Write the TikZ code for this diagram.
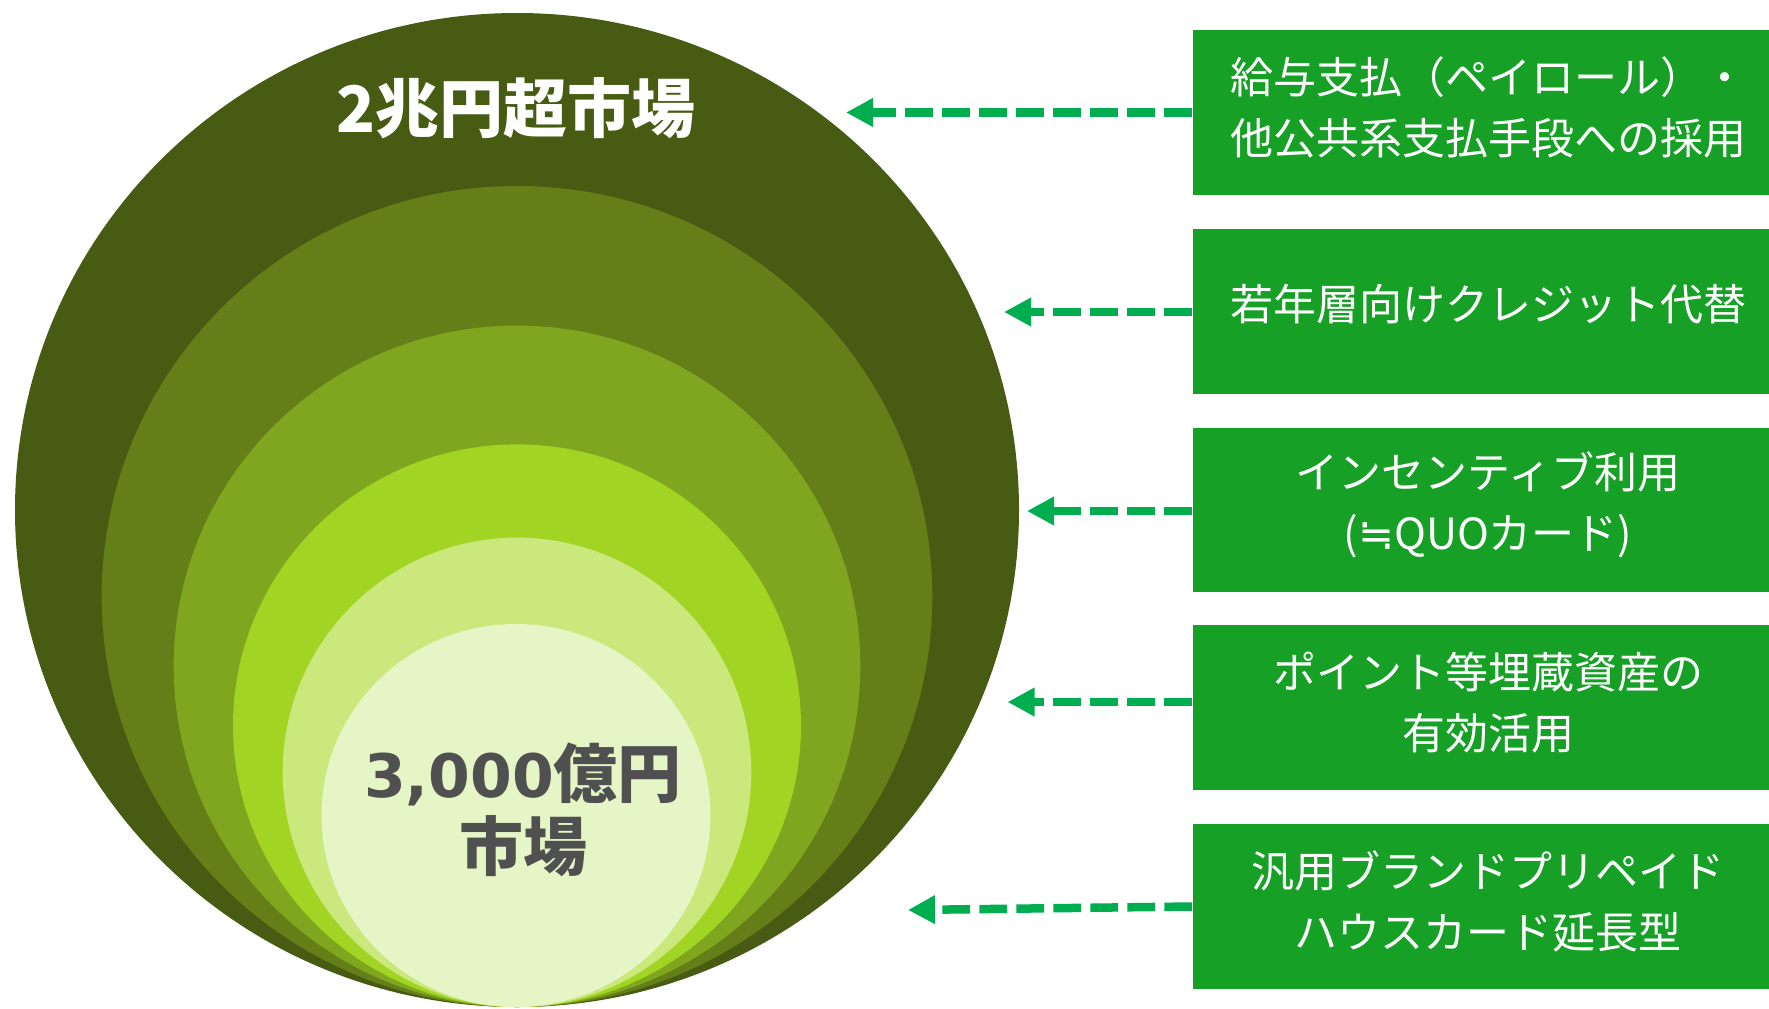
\documentclass[tikz,border=0pt]{standalone}
\usepackage{fontspec}
\setmainfont{Noto Sans CJK JP}
\newfontfamily\symfont{DejaVu Sans}
\usetikzlibrary{arrows.meta}
\definecolor{ring1}{RGB}{71,92,18}
\definecolor{ring2}{RGB}{100,127,24}
\definecolor{ring3}{RGB}{128,166,32}
\definecolor{ring4}{RGB}{162,212,36}
\definecolor{ring5}{RGB}{202,232,124}
\definecolor{ring6}{RGB}{230,245,198}
\definecolor{boxgreen}{RGB}{22,160,38}
\definecolor{arrowgreen}{RGB}{0,174,80}
\definecolor{darktext}{RGB}{80,80,80}
\begin{document}
\begin{tikzpicture}[x=0.5pt,y=-0.5pt,
  greenbox/.style={rectangle, fill=boxgreen, draw=none, inner sep=0pt,
    minimum width=288.25pt, minimum height=82.4pt},
  boxlabel/.style={text=white, align=center, inner sep=0pt,
    font=\fontsize{21.5pt}{30.5pt}\selectfont},
  ringlabel/.style={align=center, inner sep=0pt,
    font=\fontsize{32pt}{36.5pt}\selectfont\bfseries},
  linkarrow/.style={arrowgreen, line width=4.25pt,
    dash pattern=on 13.85pt off 4.65pt,
    -{Triangle[length=13.5pt,width=13.5pt]}}
]
\useasboundingbox (0,0) rectangle (1769,1008);
% nested circles
\fill[ring1] (517,510) ellipse [x radius=502, y radius=497];
\fill[ring2] (517,596.5) ellipse [x radius=415.3, y radius=410.5];
\fill[ring3] (517,666.3) ellipse [x radius=343.3, y radius=340.7];
\fill[ring4] (517,725.7) ellipse [x radius=284, y radius=281.3];
\fill[ring5] (517,772.3) ellipse [x radius=234.3, y radius=234.7];
\fill[ring6] (516,815.5) ellipse [x radius=194.5, y radius=191.5];
% circle labels
\node[ringlabel, text=white] (big) at (516,108) {2兆円超市場};
\node[ringlabel, text=darktext] (small) at (523,809.5)
  {{\symfont\fontsize{30pt}{36.5pt}\selectfont\bfseries 3,000}億円\\市場};
% boxes
\node[greenbox] (b1) at (1480.75,112.85) {};
\node[greenbox] (b2) at (1480.75,311.35) {};
\node[greenbox] (b3) at (1480.75,510) {};
\node[greenbox] (b4) at (1480.75,707.5) {};
\node[greenbox] (b5) at (1480.75,906.5) {};
\node[boxlabel] (l1) at (1488,107.7) {給与支払（ペイロール）・\\他公共系支払手段への採用};
\node[boxlabel] (l2) at (1488,304.6) {若年層向けクレジット代替};
\node[boxlabel] (l3) at (1488,505) {インセンティブ利用\\({\symfont ≒}QUOカード)};
\node[boxlabel] (l4) at (1488,702.5) {ポイント等埋蔵資産の\\有効活用};
\node[boxlabel] (l5) at (1488,901.5) {汎用ブランドプリペイド\\ハウスカード延長型};
% arrow tips
\coordinate (p1) at (846,112.5);
\coordinate (p2) at (1004,312);
\coordinate (p3) at (1027,511);
\coordinate (p4) at (1007.5,702);
\coordinate (p5) at (908,910);
\draw[linkarrow] (b1.west |- p1) -- (p1);
\draw[linkarrow] (b2.west |- p2) -- (p2);
\draw[linkarrow] (b3.west |- p3) -- (p3);
\draw[linkarrow] (b4.west |- p4) -- (p4);
\draw[linkarrow] (b5.west) -- (p5);
\end{tikzpicture}
\end{document}
